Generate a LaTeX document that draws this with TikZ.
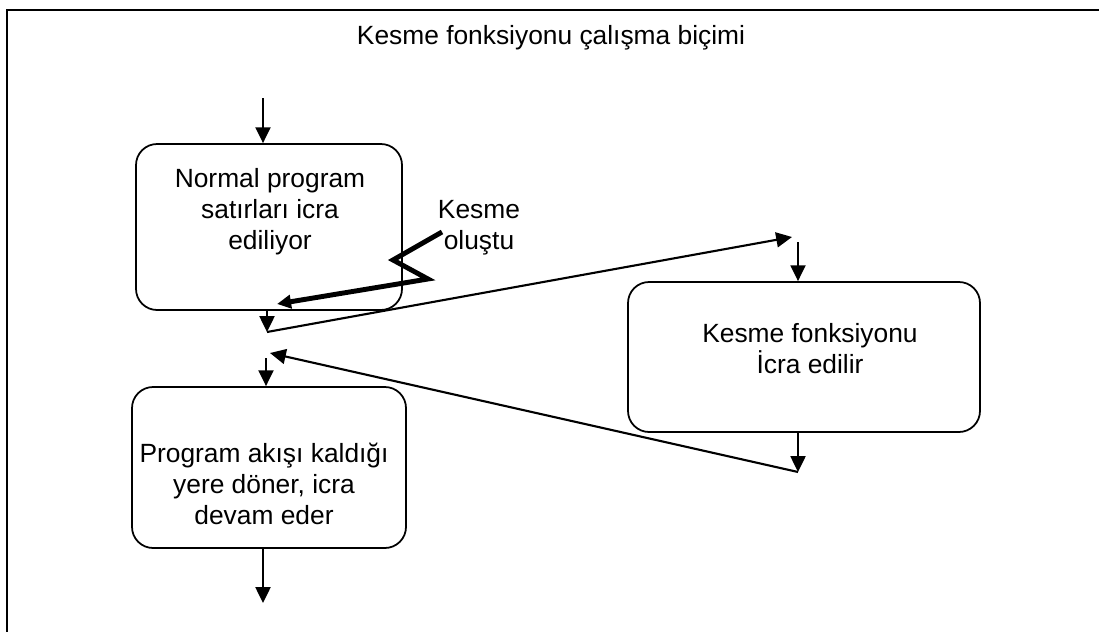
\documentclass[tikz,border=0pt]{standalone}
\usepackage{fontspec}
\setmainfont{Liberation Sans}
\usepackage{tikz}
\usepackage{xcolor}
\usetikzlibrary{arrows.meta, positioning}
\definecolor{Flow_Black}{HTML}{000000}

\tikzset{
    flowbox/.style={draw=Flow_Black, line width=1pt, rounded corners=12pt, inner sep=0pt},
    flowtext/.style={align=center, font=\fontsize{15}{17.6}\selectfont},
    flowarrow/.style={line width=1.2pt, -{Triangle[length=9pt,width=8.5pt]}},
    jumpline/.style={line width=1.2pt, -{Triangle[length=9pt,width=8.5pt]}},
    signal/.style={line width=2.8pt, -{Triangle[length=8pt,width=7.5pt]}}
}

\begin{document}
\begin{tikzpicture}[x=0.02cm, y=-0.02cm]
    \useasboundingbox (0,0) rectangle (1099,632);
    % Frame and title
    \draw[line width=1.3pt] (7,10) rectangle (1130,660);
    \node[flowtext] (title) at (551,38) {Kesme fonksiyonu çalışma biçimi};

    % Boxes
    \node[flowbox, minimum width=266*0.02cm, minimum height=166*0.02cm] (normal) at (269,227) {};
    \node[flowbox, minimum width=352*0.02cm, minimum height=150*0.02cm] (isr) at (804,357) {};
    \node[flowbox, minimum width=274*0.02cm, minimum height=161*0.02cm] (resume) at (269,467.5) {};
    \node[flowtext] (normaltext) at (270,212) {Normal program\\satırları icra\\ediliyor};
    \node[flowtext] (isrtext) at (810,349) {Kesme fonksiyonu\\İcra edilir};
    \node[flowtext] (resumetext) at (264,484) {Program akışı kaldığı\\yere döner, icra\\devam eder};

    % Free ends
    \coordinate (in) at (263,98);
    \coordinate (j1) at (267,332);
    \coordinate (k1) at (792,237);
    \coordinate (k2) at (798,242);
    \coordinate (k3) at (798,472);
    \coordinate (j2) at (270,353);
    \coordinate (j3) at (266,358);
    \coordinate (out) at (263,603);

    % Flow arrows
    \draw[flowarrow] (in) -- (in |- normal.north);
    \draw[flowarrow] (j1 |- normal.south) -- (j1);
    \draw[jumpline] (j1) -- (k1);
    \draw[flowarrow] (k2) -- (k2 |- isr.north);
    \draw[flowarrow] (k3 |- isr.south) -- (k3);
    \draw[jumpline] (k3) -- (j2);
    \draw[flowarrow] (j3) -- (j3 |- resume.north);
    \draw[flowarrow] (out |- resume.south) -- (out);

    % Interrupt signal
    \coordinate (z1) at (442,232);
    \coordinate (z2) at (393,260);
    \coordinate (z3) at (428,279);
    \coordinate (zt) at (277,304);
    \draw[signal, line join=miter] (z1) -- (z2) -- (z3) -- (zt);
    \node[flowtext] (signaltext) at (479,228) {Kesme\\oluştu};
\end{tikzpicture}
\end{document}
